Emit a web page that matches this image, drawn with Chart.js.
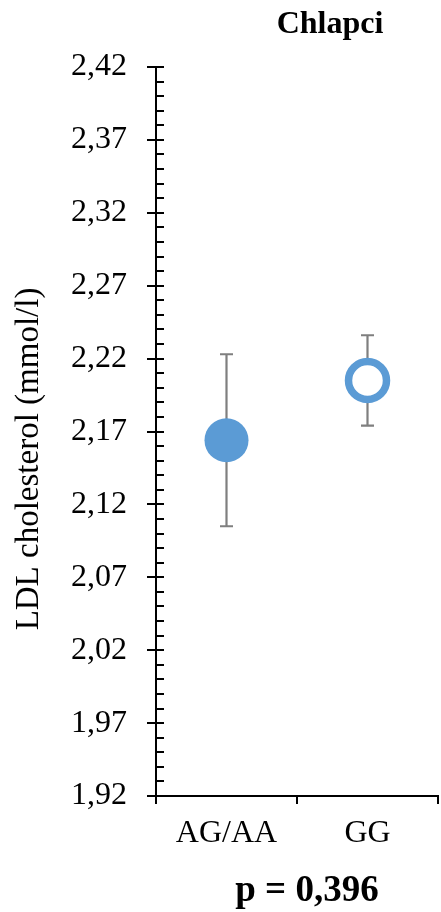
<!DOCTYPE html>
<html>
<head>
<meta charset="utf-8">
<script src="https://cdn.jsdelivr.net/npm/chart.js@4.4.1/dist/chart.umd.min.js"></script>
<style>
  html, body { margin: 0; padding: 0; background: #fff; }
  canvas { display: block; }
</style>
</head>
<body>
<canvas id="ldl-chart" width="441" height="912"></canvas>
<script>
const genotypes = ['AG/AA', 'GG'];
const means = [2.164, 2.205];
const lower = [2.105, 2.174];
const upper = [2.223, 2.236];
const yTicks = [1.92, 1.97, 2.02, 2.07, 2.12, 2.17, 2.22, 2.27, 2.32, 2.37, 2.42];

const serif = "'Liberation Serif', 'Times New Roman', serif";
const blue = '#5b9bd5';

// error whiskers behind the markers, plus the small inner ticks on the y axis
const whiskers = {
    id: 'whiskers',
    beforeDatasetsDraw(chart) {
        const ctx = chart.ctx;
        const x = chart.scales.x;
        const y = chart.scales.y;
        ctx.save();
        ctx.strokeStyle = '#7f7f7f';
        ctx.lineWidth = 2.2;
        genotypes.forEach((g, i) => {
            const px = x.getPixelForValue(i);
            const top = y.getPixelForValue(upper[i]);
            const bot = y.getPixelForValue(lower[i]);
            ctx.beginPath();
            ctx.moveTo(px, top);
            ctx.lineTo(px, bot);
            ctx.moveTo(px - 6.5, top);
            ctx.lineTo(px + 6.5, top);
            ctx.moveTo(px - 6.5, bot);
            ctx.lineTo(px + 6.5, bot);
            ctx.stroke();
        });
        ctx.restore();
    },
    afterDraw(chart) {
        const ctx = chart.ctx;
        const y = chart.scales.y;
        const left = chart.chartArea.left;
        ctx.save();
        ctx.strokeStyle = '#000';
        ctx.lineWidth = 2;
        // minor ticks every 0.01, drawn on the inside of the axis
        for (let k = 0; k <= 50; k++) {
            const py = Math.round(y.getPixelForValue(yTicks[0] + k * 0.01));
            ctx.beginPath();
            ctx.moveTo(left, py);
            ctx.lineTo(left + 8, py);
            ctx.stroke();
        }

        ctx.fillStyle = '#000';
        ctx.textAlign = 'center';
        ctx.textBaseline = 'alphabetic';
        ctx.font = 'bold 32px ' + serif;
        ctx.fillText('Chlapci', 330, 33);
        ctx.font = 'bold 37px ' + serif;
        ctx.fillText('p = 0,396', 307, 901);

        ctx.translate(38, 459);
        ctx.rotate(-Math.PI / 2);
        ctx.font = '33px ' + serif;
        ctx.fillText('LDL cholesterol (mmol/l)', 0, 0);
        ctx.restore();
    }
};

new Chart(document.getElementById('ldl-chart'), {
    type: 'line',
    data: {
        labels: genotypes,
        datasets: [{
            data: means,
            showLine: false,
            pointRadius: [22, 19],
            pointHoverRadius: [22, 19],
            pointBackgroundColor: [blue, '#ffffff'],
            pointBorderColor: blue,
            pointBorderWidth: [0, 7.5]
        }]
    },
    options: {
        responsive: false,
        animation: false,
        layout: { autoPadding: false, padding: { top: 67, right: 3, left: 0, bottom: 0 } },
        plugins: {
            legend: { display: false },
            tooltip: { enabled: false }
        },
        scales: {
            x: {
                offset: true,
                grid: { offset: true, drawOnChartArea: false, tickLength: 8, color: '#000', lineWidth: 2 },
                border: { color: '#000', width: 2 },
                ticks: { color: '#000', font: { family: serif, size: 32 }, padding: 10 },
                afterFit(scale) {
                    scale.height = 116;
                    scale.paddingLeft = 0;
                    scale.paddingRight = 0;
                }
            },
            y: {
                min: 1.92,
                max: 2.42,
                afterBuildTicks(scale) {
                    scale.ticks = yTicks.map(v => ({ value: v }));
                },
                grid: { drawOnChartArea: false, tickLength: 9, color: '#000', lineWidth: 2 },
                border: { color: '#000', width: 2 },
                ticks: {
                    color: '#000',
                    font: { family: serif, size: 32 },
                    padding: 20,
                    callback: v => v.toFixed(2).replace('.', ',')
                },
                afterFit(scale) { scale.width = 156; }
            }
        }
    },
    plugins: [whiskers]
});
</script>
</body>
</html>
